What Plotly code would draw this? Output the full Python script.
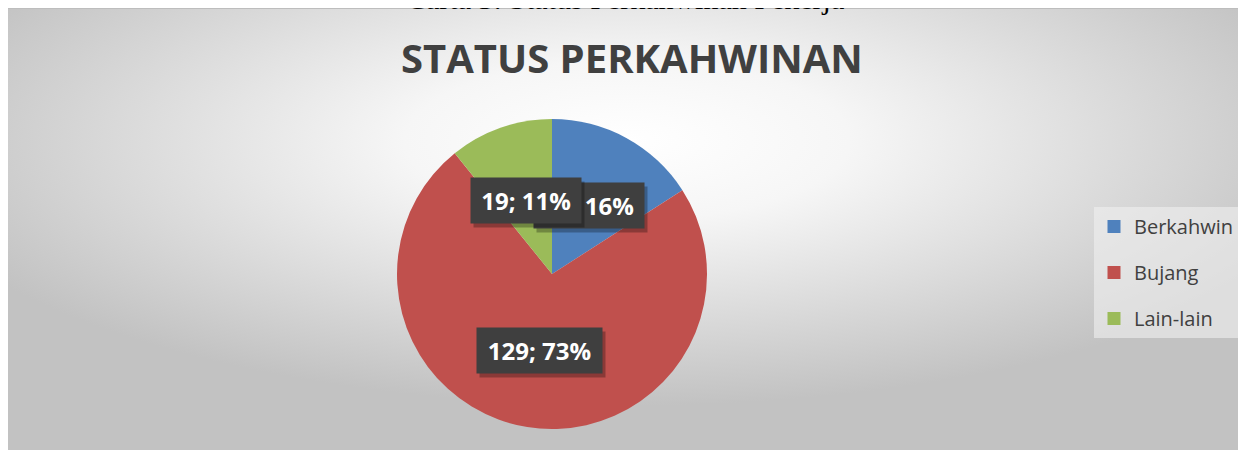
import base64
import math

import plotly.graph_objects as go

# data
labels = ['Berkahwin', 'Bujang', 'Lain-lain']
values = [28, 129, 19]
colors = ['#4F81BD', '#C0504D', '#9BBB59']

title = 'STATUS PERKAHWINAN'
caption = 'Carta 3: Status Perkahwinan Pekerja'

# the page has an 8px body margin, so the figure sits at (8, 8)
OFF = 8
W, H = 1246 - OFF, 450 - OFF
CX, CY, R = 552, 274, 155   # pie centre / radius in page px


def px(X):
    return (X - OFF) / W


def py(Y):
    return 1 - (Y - OFF) / H


# radial grey background like the Excel chart area
svg = """<svg xmlns='http://www.w3.org/2000/svg' width='1238' height='442' preserveAspectRatio='none'>
<defs><radialGradient id='g' cx='0.5' cy='0.3' r='0.6'>
<stop offset='0' stop-color='#ffffff'/>
<stop offset='0.3' stop-color='#f6f6f6'/>
<stop offset='1' stop-color='#c2c2c2'/>
</radialGradient></defs>
<rect width='100%' height='100%' fill='url(#g)'/></svg>"""
bg_src = 'data:image/svg+xml;base64,' + base64.b64encode(svg.encode()).decode()

fig = go.Figure()
fig.add_pie(labels=labels, values=values, sort=False, direction='clockwise',
            marker=dict(colors=colors), textinfo='none', hoverinfo='label+value+percent',
            showlegend=False,
            domain=dict(x=[px(CX - R), px(CX + R)], y=[py(CY + R), py(CY - R)]))

# legend entries (dummy traces so the spacing can be set with groups)
for lab, col in zip(labels, colors):
    fig.add_scatter(x=[None], y=[None], mode='markers', name=lab, legendgroup=lab,
                    marker=dict(symbol='square', size=13, color=col))

# data labels: dark boxes at half radius of each slice's mid angle
total = sum(values)
cum = 0
for lab, v in zip(labels, values):
    mid = (cum + v / 2) / total * 2 * math.pi
    cum += v
    lx = CX + 0.5 * R * math.sin(mid)
    ly = CY - 0.5 * R * math.cos(mid)
    txt = '%d; %d%%' % (v, round(100 * v / total))
    common = dict(xref='paper', yref='paper', x=px(lx), y=py(ly),
                  xanchor='center', yanchor='middle',
                  showarrow=False, width=len(txt) * 15 + 3, height=43)
    fig.add_annotation(text=txt, bgcolor='rgba(0,0,0,0.28)', xshift=3, yshift=-4,
                       font=dict(color='rgba(0,0,0,0)', size=24,
                                 family='Open Sans', weight='bold'), **common)
    fig.add_annotation(text=txt, bgcolor='#3f3f3f',
                       font=dict(color='white', size=24, family='Open Sans', weight='bold'),
                       **common)

fig.add_annotation(text=title, xref='paper', yref='paper', x=px(632), y=py(57),
                   xanchor='center', yanchor='middle', showarrow=False,
                   font=dict(size=40, color='#404040', family='Open Sans', weight='bold'))
# caption of the document, mostly cut off above the chart
fig.add_annotation(text=caption, xref='paper', yref='paper', x=px(625), y=1 - 8.5 / H,
                   xanchor='center', yanchor='bottom', showarrow=False,
                   font=dict(size=30, color='black', family='Liberation Serif'))

fig.add_layout_image(source=bg_src, xref='paper', yref='paper', x=0, y=1,
                     sizex=1, sizey=1, xanchor='left', yanchor='top',
                     sizing='stretch', layer='below')
fig.add_shape(type='line', xref='paper', yref='paper', x0=0, x1=1, y0=1, y1=1,
              line=dict(color='#bdbdbd', width=2))

fig.update_layout(
    width=W, height=H, margin=dict(l=0, r=0, t=0, b=0),
    paper_bgcolor='white', plot_bgcolor='rgba(0,0,0,0)',
    xaxis=dict(visible=False), yaxis=dict(visible=False),
    legend=dict(x=px(1094), y=py(207), xanchor='left', yanchor='top',
                bgcolor='rgba(240,240,240,0.6)', tracegroupgap=17,
                font=dict(size=20, color='#404040', family='Open Sans')),
)

fig.write_html("out.html")
